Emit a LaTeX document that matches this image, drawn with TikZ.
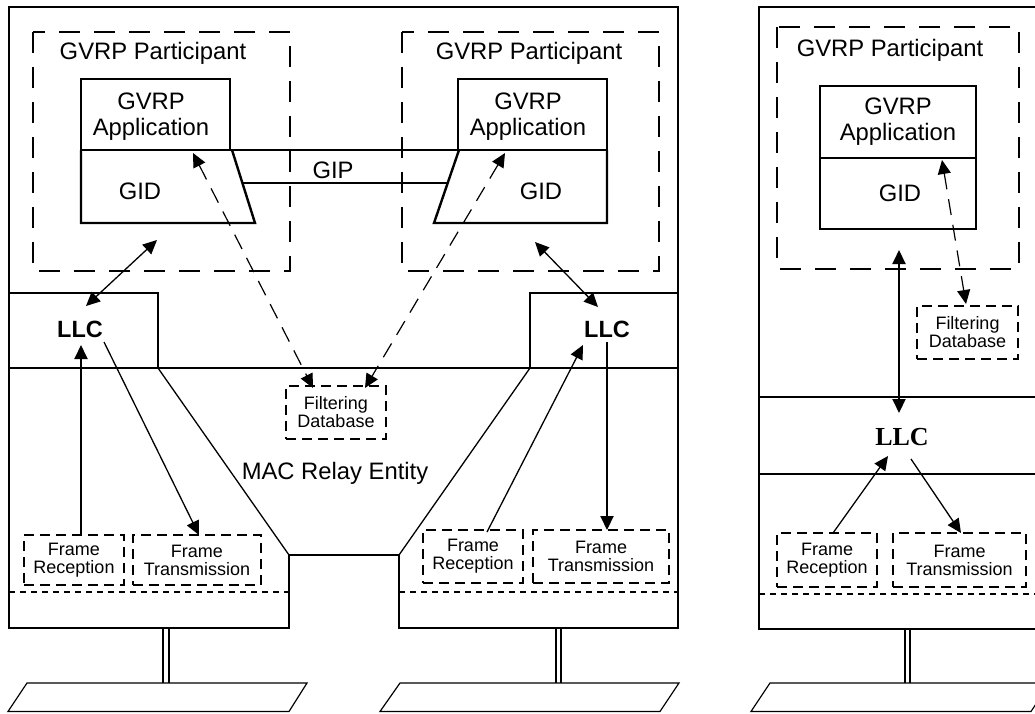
\documentclass[tikz,border=0pt]{standalone}
\usepackage{fontspec}
\setmainfont{Liberation Sans}
\newfontfamily\serifbold{Liberation Serif}
\usetikzlibrary{arrows.meta}

\tikzset{
  x=1pt, y=-1pt,
  heavy/.style={line width=2.4pt, line join=miter},
  thin line/.style={line width=1.3pt},
  participant/.style={line width=2.4pt, dash pattern=on 21pt off 14pt},
  dbox/.style={draw, line width=2pt, dash pattern=on 10pt off 6pt, inner sep=0pt,
               font=\fontsize{18}{18}\selectfont, align=center},
  seam/.style={line width=2pt, dash pattern=on 6pt off 5pt},
  bigtext/.style={font=\fontsize{23.8}{26}\selectfont, align=center, inner sep=0pt},
  llcsans/.style={font=\fontsize{23.5}{26}\selectfont\bfseries, inner sep=0pt},
  llcserif/.style={font=\fontsize{26}{28}\selectfont\serifbold\bfseries, inner sep=0pt},
  tip/.style={-{Triangle[length=14pt,width=13pt]}},
  tips/.style={{Triangle[length=14pt,width=13pt]}-{Triangle[length=14pt,width=13pt]}},
  solidarrow/.style={thin line, tip},
  vertarrow/.style={line width=2pt, tip},
  dasharrow/.style={line width=1.2pt, dash pattern=on 16pt off 10pt, tips},
  cable/.style={line width=1.5pt},
  segment/.style={line width=1.2pt},
}

\begin{document}
\begin{tikzpicture}
\clip (0,0) rectangle (1035,713);
\fill[white] (0,0) rectangle (1035,713);

% ===================== Bridge =====================
% outline with the two port stubs
\draw[heavy] (9,7) -- (678,7) -- (678,628) -- (399,628) -- (399,555) -- (289,555)
  -- (289,628) -- (9,628) -- cycle;
% LLC compartments and layer boundary
\draw[heavy] (9,293) -- (158,293) -- (158,368);
\draw[heavy] (530,368) -- (530,293) -- (678,293);
\draw[heavy] (9,368) -- (678,368);
\draw[thin line] (158,368) -- (289,555);
\draw[thin line] (530,368) -- (399,555);
% MAC service boundary
\draw[seam] (9,592) -- (289,592);
\draw[seam] (399,592) -- (678,592);

% GVRP participants
\draw[participant] (33,32) rectangle (290,271);
\draw[participant] (402,32) rectangle (659,271);
\node[bigtext] (partL) at (153,53) {GVRP Participant};
\node[bigtext] (partR) at (529,53) {GVRP Participant};

% application / GID blocks joined by GIP
\draw[heavy] (81,79) rectangle (230,150);
\draw[heavy] (81,150) -- (81,223) -- (255,223) -- (232,150);
\draw[heavy] (458,79) rectangle (607,150);
\draw[heavy] (607,150) -- (607,223) -- (434,223) -- (459,150);
\draw[heavy] (230,150) -- (459,150);
\draw[heavy] (242.4,183) -- (447.7,183);
\node[bigtext] (appL) at (151,117) {GVRP\\Application};
\node[bigtext] (appR) at (528,117) {GVRP\\Application};
\node[bigtext] (gidL) at (140,191) {GID};
\node[bigtext] (gidR) at (541,191) {GID};
\node[bigtext] (gip) at (333,170) {GIP};

\node[llcsans] (llcL) at (80,329) {LLC};
\node[llcsans] (llcR) at (607,329) {LLC};
\node[bigtext] (relay) at (335,473) {MAC Relay Entity};

\node[dbox, minimum width=100pt, minimum height=53pt] (fdb) at (336,412.5) {Filtering\\Database};
\node[dbox, minimum width=100pt, minimum height=50pt] (frL) at (74,560) {Frame\\Reception};
\node[dbox, minimum width=128pt, minimum height=50pt] (ftL) at (197,560) {Frame\\Transmission};
\node[dbox, minimum width=100pt, minimum height=53pt] (frR) at (473,556.5) {Frame\\Reception};
\node[dbox, minimum width=136pt, minimum height=53pt] (ftR) at (601,556.5) {Frame\\Transmission};

% arrow end points
\coordinate (partL-s) at (157,240);
\coordinate (llcL-n) at (86,306);
\coordinate (appL-s) at (193,153);
\coordinate (fdb-nw) at (313,388);
\coordinate (frL-n) at (81,535);
\coordinate (llcL-s) at (81,345);
\coordinate (llcL-se) at (104,342);
\coordinate (ftL-n) at (199,535);
\coordinate (partR-s) at (535,242);
\coordinate (llcR-n) at (598,307);
\coordinate (appR-s) at (505,153);
\coordinate (fdb-ne) at (365,388);
\coordinate (frR-n) at (487,532);
\coordinate (llcR-sw) at (583,345);
\coordinate (llcR-s) at (607,342);
\coordinate (ftR-n) at (607,530);

\draw[thin line, tips] (partL-s) -- (llcL-n);
\draw[dasharrow] (appL-s) -- (fdb-nw);
\draw[vertarrow] (frL-n) -- (llcL-s);
\draw[solidarrow] (llcL-se) -- (ftL-n);
\draw[thin line, tips] (partR-s) -- (llcR-n);
\draw[dasharrow] (appR-s) -- (fdb-ne);
\draw[solidarrow] (frR-n) -- (llcR-sw);
\draw[vertarrow] (llcR-s) -- (ftR-n);

% attachments to the LAN segments
\draw[cable] (163,628) -- (163,683);
\draw[cable] (169,628) -- (169,683);
\draw[segment] (27,683) -- (307,683) -- (289,711.5) -- (8,711.5) -- cycle;
\draw[cable] (556,628) -- (556,683);
\draw[cable] (561,628) -- (561,683);
\draw[segment] (400,683) -- (679,683) -- (660,711.5) -- (380,711.5) -- cycle;

% ===================== End station =====================
\draw[heavy] (759,7) rectangle (1050,629);
\draw[heavy] (759,397) -- (1050,397);
\draw[heavy] (759,474) -- (1050,474);
\draw[seam] (759,594) -- (1050,594);

\draw[participant] (777,27) rectangle (1019,269);
\node[bigtext] (partS) at (890,50) {GVRP Participant};
\draw[heavy] (820,86) rectangle (976,229);
\draw[heavy] (820,158) -- (976,158);
\node[bigtext] (appS) at (898,122) {GVRP\\Application};
\node[bigtext] (gidS) at (900,193) {GID};

\node[dbox, minimum width=101pt, minimum height=53pt] (fdbS) at (967.5,332.5) {Filtering\\Database};
\node[llcserif] (llcS) at (902,437) {LLC};
\node[dbox, minimum width=100pt, minimum height=54pt] (frS) at (827,560) {Frame\\Reception};
\node[dbox, minimum width=133pt, minimum height=54pt] (ftS) at (959.5,560) {Frame\\Transmission};

\coordinate (partS-s) at (899,250);
\coordinate (llcS-n) at (899,413);
\coordinate (appS-s) at (942,160);
\coordinate (fdbS-n) at (966,304);
\coordinate (frS-n) at (833,533);
\coordinate (llcS-sw) at (888,456);
\coordinate (llcS-se) at (911,459);
\coordinate (ftS-n) at (961,533);

\draw[line width=2pt, tips] (partS-s) -- (llcS-n);
\draw[dasharrow] (appS-s) -- (fdbS-n);
\draw[solidarrow] (frS-n) -- (llcS-sw);
\draw[solidarrow] (llcS-se) -- (ftS-n);

\draw[cable] (905,629) -- (905,683);
\draw[cable] (910,629) -- (910,683);
\draw[segment] (770,683) -- (1050,683) -- (1031,711.5) -- (751,711.5) -- cycle;
\end{tikzpicture}
\end{document}
